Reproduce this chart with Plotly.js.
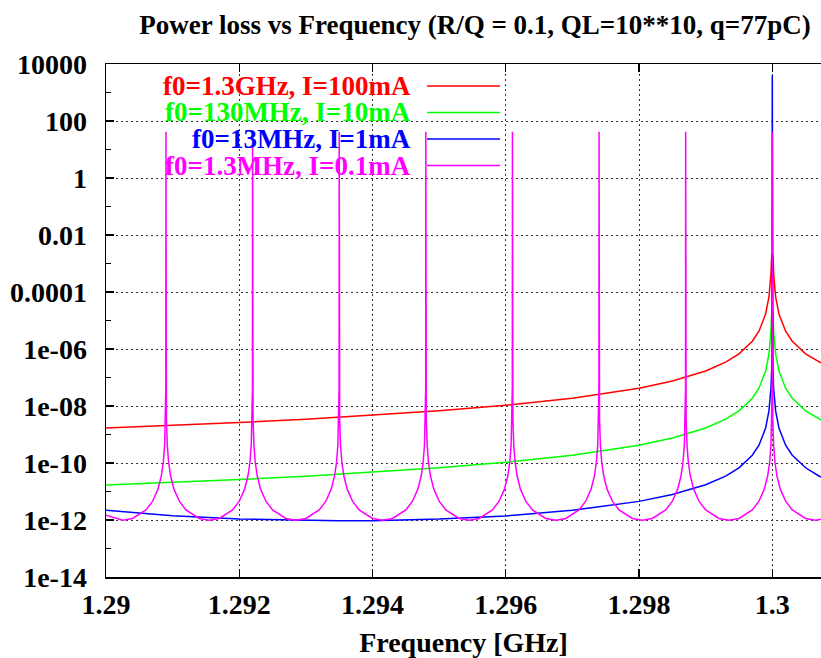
<!DOCTYPE html>
<html>
<head>
<meta charset="utf-8">
<script src="https://cdn.plot.ly/plotly-3.0.1.min.js"></script>
<style>html,body{margin:0;padding:0;background:#fff;}#chart{width:821px;height:658px;}</style>
</head>
<body>
<div id="chart"></div>
<script>
// ---- data ----
var seriesNames = ["f0=1.3GHz, I=100mA", "f0=130MHz, I=10mA", "f0=13MHz, I=1mA", "f0=1.3MHz, I=0.1mA"];
var seriesColors = ["#ff0000", "#00ff00", "#0000ff", "#ff00ff"];

var redX = [1.29, 1.291, 1.292, 1.293, 1.294, 1.295, 1.296, 1.297, 1.298, 1.2985, 1.299, 1.2993, 1.2995, 1.2997, 1.2998, 1.2999, 1.29995, 1.29998, 1.29999, 1.3,
            1.30001, 1.30002, 1.30005, 1.3001, 1.3002, 1.3003, 1.3005, 1.3007, 1.3008];
var redY = [1.69e-9, 2.09e-9, 2.64e-9, 3.45e-9, 4.69e-9, 6.76e-9, 1.06e-8, 1.88e-8, 4.23e-8, 7.51e-8, 1.69e-7, 3.45e-7, 6.76e-7, 1.88e-6, 4.23e-6, 1.69e-5, 6.76e-5, 4.23e-4, 1.69e-3, 2.3e-3,
            1.69e-3, 4.23e-4, 6.76e-5, 1.69e-5, 4.23e-6, 1.88e-6, 6.76e-7, 3.45e-7, 2.64e-7];

var greenX = [1.29, 1.291, 1.292, 1.293, 1.294, 1.295, 1.296, 1.297, 1.298, 1.2985, 1.299, 1.2993, 1.2995, 1.2997, 1.2998, 1.2999, 1.29995, 1.29998, 1.29999, 1.3,
              1.30001, 1.30002, 1.30005, 1.3001, 1.3002, 1.3003, 1.3005, 1.3007, 1.3008];
var greenY = [1.69e-11, 2.09e-11, 2.64e-11, 3.45e-11, 4.69e-11, 6.76e-11, 1.06e-10, 1.88e-10, 4.23e-10, 7.51e-10, 1.69e-9, 3.45e-9, 6.76e-9, 1.88e-8, 4.23e-8, 1.69e-7, 6.76e-7, 4.23e-6, 1.69e-5, 2.3e-5,
              1.69e-5, 4.23e-6, 6.76e-7, 1.69e-7, 4.23e-8, 1.88e-8, 6.76e-9, 3.45e-9, 2.64e-9];

var blueX = [1.29, 1.291, 1.292, 1.293, 1.2935, 1.294, 1.295, 1.296, 1.297, 1.298, 1.2985, 1.299, 1.2993, 1.2995, 1.2997, 1.2998, 1.2999, 1.29995, 1.29998, 1.29999, 1.299995, 1.3,
             1.300005, 1.30001, 1.30002, 1.30005, 1.3001, 1.3002, 1.3003, 1.3005, 1.3007, 1.3008];
var blueY = [2.2e-12, 1.41e-12, 1.08e-12, 9.5e-13, 9.4e-13, 9.5e-13, 1.08e-12, 1.39e-12, 2.18e-12, 4.5e-12, 7.8e-12, 1.72e-11, 3.47e-11, 6.79e-11, 1.88e-10, 4.23e-10, 1.69e-9, 6.76e-9, 4.23e-8, 1.69e-7, 6.76e-7, 4000,
             6.76e-7, 1.69e-7, 4.23e-8, 6.76e-9, 1.69e-9, 4.23e-10, 1.88e-10, 6.8e-11, 3.5e-11, 2.7e-11];

var magentaX = [1.29, 1.29025,
  1.2904, 1.2906, 1.2907, 1.29078, 1.29083, 1.29086, 1.29088, 1.290893, 1.290898, 1.2909, 1.290902, 1.290907, 1.29092, 1.29094, 1.29097, 1.29102, 1.2911, 1.2912, 1.2914,
  1.29155,
  1.2917, 1.2919, 1.2920, 1.29208, 1.29213, 1.29216, 1.29218, 1.292193, 1.292198, 1.2922, 1.292202, 1.292207, 1.29222, 1.29224, 1.29227, 1.29232, 1.2924, 1.2925, 1.2927,
  1.29285,
  1.2930, 1.2932, 1.2933, 1.29338, 1.29343, 1.29346, 1.29348, 1.293493, 1.293498, 1.2935, 1.293502, 1.293507, 1.29352, 1.29354, 1.29357, 1.29362, 1.2937, 1.2938, 1.2940,
  1.29415,
  1.2943, 1.2945, 1.2946, 1.29468, 1.29473, 1.29476, 1.29478, 1.294793, 1.294798, 1.2948, 1.294802, 1.294807, 1.29482, 1.29484, 1.29487, 1.29492, 1.2950, 1.2951, 1.2953,
  1.29545,
  1.2956, 1.2958, 1.2959, 1.29598, 1.29603, 1.29606, 1.29608, 1.296093, 1.296098, 1.2961, 1.296102, 1.296107, 1.29612, 1.29614, 1.29617, 1.29622, 1.2963, 1.2964, 1.2966,
  1.29675,
  1.2969, 1.2971, 1.2972, 1.29728, 1.29733, 1.29736, 1.29738, 1.297393, 1.297398, 1.2974, 1.297402, 1.297407, 1.29742, 1.29744, 1.29747, 1.29752, 1.2976, 1.2977, 1.2979,
  1.29805,
  1.2982, 1.2984, 1.2985, 1.29858, 1.29863, 1.29866, 1.29868, 1.298693, 1.298698, 1.2987, 1.298702, 1.298707, 1.29872, 1.29874, 1.29877, 1.29882, 1.2989, 1.2990, 1.2992,
  1.29935,
  1.2995, 1.2997, 1.2998, 1.29988, 1.29993, 1.29996, 1.29998, 1.299993, 1.299998, 1.3, 1.300002, 1.300007, 1.30002, 1.30004, 1.30007, 1.30012, 1.3002, 1.3003, 1.3005,
  1.30065, 1.3008];
var magentaY = [1.46e-12, 9.87e-13,
  1.13e-12, 2.25e-12, 4.57e-12, 1.21e-11, 3.48e-11, 1.06e-10, 4.23e-10, 3.45e-9, 4.2e-8, 42, 4.2e-8, 3.45e-9, 4.23e-10, 1.06e-10, 3.48e-11, 1.21e-11, 4.57e-12, 2.25e-12, 1.13e-12,
  9.87e-13,
  1.13e-12, 2.25e-12, 4.57e-12, 1.21e-11, 3.48e-11, 1.06e-10, 4.23e-10, 3.45e-9, 4.2e-8, 42, 4.2e-8, 3.45e-9, 4.23e-10, 1.06e-10, 3.48e-11, 1.21e-11, 4.57e-12, 2.25e-12, 1.13e-12,
  9.87e-13,
  1.13e-12, 2.25e-12, 4.57e-12, 1.21e-11, 3.48e-11, 1.06e-10, 4.23e-10, 3.45e-9, 4.2e-8, 42, 4.2e-8, 3.45e-9, 4.23e-10, 1.06e-10, 3.48e-11, 1.21e-11, 4.57e-12, 2.25e-12, 1.13e-12,
  9.87e-13,
  1.13e-12, 2.25e-12, 4.57e-12, 1.21e-11, 3.48e-11, 1.06e-10, 4.23e-10, 3.45e-9, 4.2e-8, 42, 4.2e-8, 3.45e-9, 4.23e-10, 1.06e-10, 3.48e-11, 1.21e-11, 4.57e-12, 2.25e-12, 1.13e-12,
  9.87e-13,
  1.13e-12, 2.25e-12, 4.57e-12, 1.21e-11, 3.48e-11, 1.06e-10, 4.23e-10, 3.45e-9, 4.2e-8, 42, 4.2e-8, 3.45e-9, 4.23e-10, 1.06e-10, 3.48e-11, 1.21e-11, 4.57e-12, 2.25e-12, 1.13e-12,
  9.87e-13,
  1.13e-12, 2.25e-12, 4.57e-12, 1.21e-11, 3.48e-11, 1.06e-10, 4.23e-10, 3.45e-9, 4.2e-8, 42, 4.2e-8, 3.45e-9, 4.23e-10, 1.06e-10, 3.48e-11, 1.21e-11, 4.57e-12, 2.25e-12, 1.13e-12,
  9.87e-13,
  1.13e-12, 2.25e-12, 4.57e-12, 1.21e-11, 3.48e-11, 1.06e-10, 4.23e-10, 3.45e-9, 4.2e-8, 42, 4.2e-8, 3.45e-9, 4.23e-10, 1.06e-10, 3.48e-11, 1.21e-11, 4.57e-12, 2.25e-12, 1.13e-12,
  9.87e-13,
  1.13e-12, 2.25e-12, 4.57e-12, 1.21e-11, 3.48e-11, 1.06e-10, 4.23e-10, 3.45e-9, 4.2e-8, 42, 4.2e-8, 3.45e-9, 4.23e-10, 1.06e-10, 3.48e-11, 1.21e-11, 4.57e-12, 2.25e-12, 1.13e-12,
  9.87e-13, 1.13e-12];

var xTickVals = [1.29, 1.292, 1.294, 1.296, 1.298, 1.3];
var xTickText = ["1.29", "1.292", "1.294", "1.296", "1.298", "1.3"];
var yTickVals = [1e4, 1e2, 1, 1e-2, 1e-4, 1e-6, 1e-8, 1e-10, 1e-12, 1e-14];
var yTickText = ["10000", "100", "1", "0.01", "0.0001", "1e-06", "1e-08", "1e-10", "1e-12", "1e-14"];

var titleText = "Power loss vs Frequency (R/Q = 0.1, QL=10**10, q=77pC)";
var xTitleText = "Frequency [GHz]";

// ---- chart ----
var FONT = "Liberation Serif";
var bold = function (t) { return "<b>" + t + "</b>"; };
var xs = [redX, greenX, blueX, magentaX];
var ys = [redY, greenY, blueY, magentaY];
var traces = xs.map(function (x, i) {
  return {x: x, y: ys[i], type: "scatter", mode: "lines", name: seriesNames[i],
          line: {color: seriesColors[i], width: 1.5}, showlegend: false, hoverinfo: "skip"};
});

// legend built as right-aligned text followed by a line sample (gnuplot style)
var legendRowsY = [0.957, 0.9055, 0.8538, 0.8021];
var annotations = seriesNames.map(function (n, i) {
  return {text: bold(n), xref: "paper", yref: "paper", x: 0.429, y: legendRowsY[i], xanchor: "right", yanchor: "middle",
          showarrow: false, font: {family: FONT, size: 27, color: seriesColors[i]}};
});
var shapes = seriesNames.map(function (n, i) {
  return {type: "line", xref: "paper", yref: "paper", x0: 0.4490, x1: 0.551, y0: legendRowsY[i], y1: legendRowsY[i],
          line: {color: seriesColors[i], width: 1.5}};
});

var layout = {
  width: 821, height: 658,
  margin: {l: 106, r: 0, t: 64, b: 81, pad: 0},
  paper_bgcolor: "#fff", plot_bgcolor: "#fff",
  font: {family: FONT, color: "#000"},
  title: {text: bold(titleText), x: 0.516, xref: "paper", xanchor: "center", y: 0.962, yref: "container", yanchor: "middle",
          font: {family: FONT, size: 27, color: "#000"}},
  xaxis: {
    range: [1.29, 1.300731], type: "linear",
    tickmode: "array", tickvals: xTickVals, ticktext: xTickText.map(bold),
    ticks: "inside", ticklen: 8, tickwidth: 1.2, tickcolor: "#000",
    showline: true, linecolor: "#000", linewidth: 1.5, mirror: "ticks",
    showgrid: true, gridcolor: "#333", gridwidth: 1, griddash: "2px,3px",
    zeroline: false, automargin: false, ticklabelstandoff: 2,
    tickfont: {family: FONT, size: 28, color: "#000"},
    title: {text: bold(xTitleText), standoff: 16, font: {family: FONT, size: 28, color: "#000"}}
  },
  yaxis: {
    type: "log", range: [-14, 4],
    tickmode: "array", tickvals: yTickVals, ticktext: yTickText.map(bold),
    ticks: "inside", ticklen: 8, tickwidth: 1.2, tickcolor: "#000",
    minor: {tickmode: "array", tickvals: [1e3, 1e1, 1e-1, 1e-3, 1e-5, 1e-7, 1e-9, 1e-11, 1e-13], ticks: "inside", ticklen: 5, tickcolor: "#000", showgrid: false},
    showline: true, linecolor: "#000", linewidth: 1.5, mirror: false,
    showgrid: true, gridcolor: "#333", gridwidth: 1, griddash: "2px,3px",
    zeroline: false, automargin: false, ticklabelstandoff: 12,
    tickfont: {family: FONT, size: 28, color: "#000"}
  },
  annotations: annotations,
  shapes: shapes
};

Plotly.newPlot("chart", traces, layout, {staticPlot: true, displayModeBar: false});
</script>
</body>
</html>
